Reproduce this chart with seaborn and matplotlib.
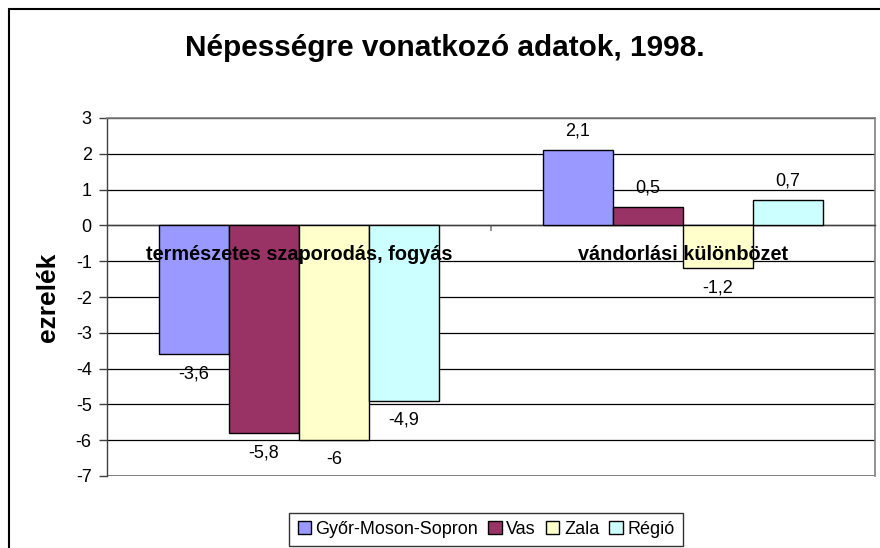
import matplotlib
matplotlib.use("Agg")
import matplotlib.pyplot as plt
import seaborn as sns
import pandas as pd
from matplotlib.patches import Rectangle

categories = ["természetes szaporodás, fogyás", "vándorlási különbözet"]
series = ["Győr-Moson-Sopron", "Vas", "Zala", "Régió"]
values_gyor = [-3.6, 2.1]
values_vas = [-5.8, 0.5]
values_zala = [-6.0, -1.2]
values_regio = [-4.9, 0.7]
colors = ["#9999FF", "#993366", "#FFFFCC", "#CCFFFF"]
yticks = [3, 2, 1, 0, -1, -2, -3, -4, -5, -6, -7]

rows = []
for s, vals in zip(series, [values_gyor, values_vas, values_zala, values_regio]):
    for c, v in zip(categories, vals):
        rows.append({"kategória": c, "sorozat": s, "érték": v})
df = pd.DataFrame(rows)

sns.set_theme(style="white")
plt.rcParams["font.family"] = ["Liberation Sans", "DejaVu Sans"]
plt.rcParams["text.color"] = "black"
plt.rcParams["axes.labelcolor"] = "black"
plt.rcParams["xtick.color"] = "black"
plt.rcParams["ytick.color"] = "black"

fig = plt.figure(figsize=(8.8, 5.48), dpi=100)
ax = fig.add_axes([107 / 880, 1 - 476 / 548, (875 - 107) / 880, (476 - 118) / 548])

sns.barplot(data=df, x="kategória", y="érték", hue="sorozat", order=categories,
            hue_order=series, palette=colors, width=0.729, edgecolor="black",
            linewidth=1.0, saturation=1, ax=ax, legend=True, zorder=3)

ax.set_ylim(-7, 3)
ax.set_yticks(yticks)
ax.set_yticklabels([str(t) for t in yticks], fontsize=13)
ax.set_xlim(-0.5, 1.5)

# gridlines
ax.yaxis.grid(True, color="black", linewidth=0.9, zorder=0)
ax.set_axisbelow(True)

# spines
for side in ["top", "right"]:
    ax.spines[side].set_visible(True)
    ax.spines[side].set_color("#808080")
    ax.spines[side].set_linewidth(1.2)
ax.spines["left"].set_color("#404040")
ax.spines["left"].set_linewidth(1.0)
ax.spines["bottom"].set_position(("data", 0))
ax.spines["bottom"].set_color("#404040")
ax.spines["bottom"].set_linewidth(1.0)
ax.axhline(-7, color="#808080", linewidth=1.4, zorder=1)

ax.tick_params(axis="y", which="major", direction="out", length=6, width=1.0,
               color="#404040", left=True, pad=5)
ax.set_xticks([0, 1])
ax.set_xticklabels([])
ax.tick_params(axis="x", which="major", length=0)
ax.set_xticks([0.5], minor=True)
ax.tick_params(axis="x", which="minor", direction="out", length=4, width=1.2,
               color="#808080", bottom=True)

# category labels drawn on top of the bars (as in the reference)
for xpos, cat in zip(ax.get_xticks(), categories):
    ax.text(xpos, -0.8, cat, ha="center", va="center", fontsize=14.3,
            fontweight="bold", zorder=10)

ax.set_xlabel("")
ax.set_ylabel("ezrelék", fontsize=19, fontweight="bold", labelpad=11)

# data labels
for cont in ax.containers:
    labels = [f"{v:g}".replace(".", ",") for v in cont.datavalues]
    ax.bar_label(cont, labels=labels, padding=8, fontsize=13)

fig.text(0.506, 1 - 48 / 548, "Népességre vonatkozó adatok, 1998.", ha="center",
         va="center", fontsize=21.4, fontweight="bold")

# legend
handles, labels = ax.get_legend_handles_labels()
ax.get_legend().remove()
leg = fig.legend(handles, labels, loc="upper center", bbox_to_anchor=(486 / 880, 1 - 504 / 548),
                 ncol=4, frameon=True, fontsize=13, handlelength=0.75, handleheight=0.75,
                 handletextpad=0.25, columnspacing=0.55, borderpad=0.45, fancybox=False)
leg.get_frame().set_edgecolor("black")
leg.get_frame().set_linewidth(1.0)

# outer chart border
fig.patches.append(Rectangle((9 / 880, -0.2), 1.2, 1 - 9 / 548 + 0.2, transform=fig.transFigure,
                             fill=False, edgecolor="black", linewidth=1.5, figure=fig))

fig.savefig("out.png", dpi=100)
